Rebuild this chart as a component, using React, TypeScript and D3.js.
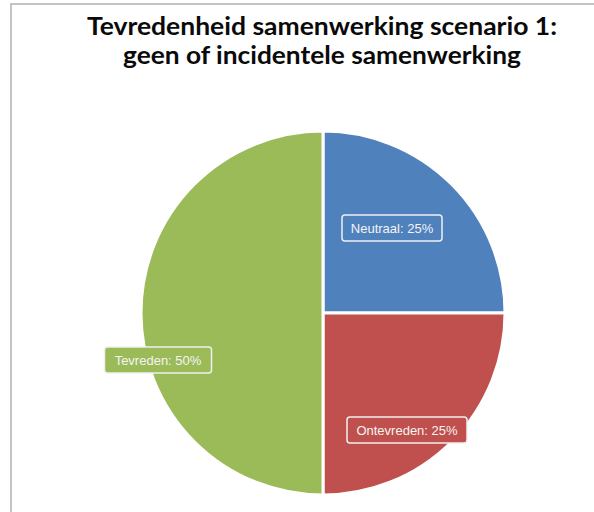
import React from "react";
import * as d3 from "d3";

const categories = ["Neutraal", "Ontevreden", "Tevreden"];
const values = [25, 25, 50];
const colors = ["#4F81BD", "#C0504D", "#9BBB59"];
const titleLines = ["Tevredenheid samenwerking scenario 1:", "geen of incidentele samenwerking"];

export default function App() {
  const W = 594, H = 512;
  const cx = 323, cy = 313, r = 182;
  const pie = d3.pie<number>().sort(null).value((d) => d)(values);
  const arc = d3.arc<d3.PieArcDatum<number>>().innerRadius(0).outerRadius(r);
  const labelPos: [number, number][] = [
    [392 - cx, 228 - cy],
    [407 - cx, 430 - cy],
    [158 - cx, 360 - cy],
  ];
  const boxW = [100, 120, 107];
  return (
    <svg width={W} height={H} style={{ position: "absolute", left: 0, top: 0 }}>
      <rect x={0} y={0} width={W} height={H} fill="#fff" />
      <rect x={11} y={4} width={W + 10} height={H + 10} fill="#fff" stroke="#c4c4c4" strokeWidth={2} />
      {titleLines.map((t, i) => (
        <text key={i} x={322} y={35 + i * 29} textAnchor="middle" fontFamily="Lato, 'Open Sans', sans-serif"
          fontWeight="bold" fontSize={24} fill="#0a0a0a"
          textLength={i === 0 ? 470 : 398} lengthAdjust="spacingAndGlyphs">{t}</text>
      ))}
      <g transform={`translate(${cx},${cy})`}>
        {pie.map((p, i) => (
          <path key={i} d={arc(p) || ""} fill={colors[i]} stroke="#fff" strokeWidth={3} strokeLinejoin="miter" />
        ))}
        {pie.map((p, i) => {
          const [lx, ly] = labelPos[i];
          return (
            <g key={"l" + i} transform={`translate(${lx},${ly})`}>
              <rect x={-boxW[i] / 2} y={-13} width={boxW[i]} height={26} rx={3} ry={3}
                fill={colors[i]} stroke="#f0f0f0" strokeWidth={1.5} />
              <text x={0} y={4.5} textAnchor="middle" fontFamily="'Liberation Sans', Arial, sans-serif"
                fontSize={13} fill="#f4f4f4">{`${categories[i]}: ${p.data}%`}</text>
            </g>
          );
        })}
      </g>
    </svg>
  );
}
